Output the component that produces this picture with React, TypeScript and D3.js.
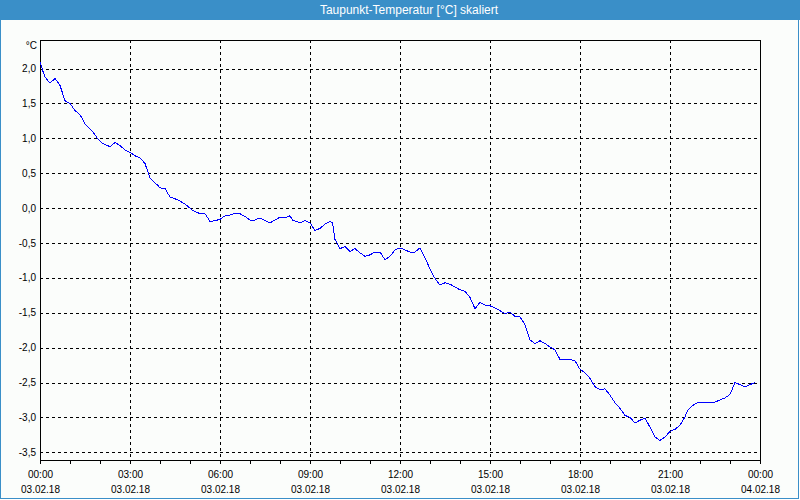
import * as React from 'react';
import * as d3 from 'd3';

const title = 'Taupunkt-Temperatur [°C] skaliert';
const unitLabel = '°C';
const day = '2018-02-03';
const nextDay = '2018-02-04';

// dew point readings, time of day on 03.02.18
const times = [
  '00:00', '00:05', '00:10', '00:20', '00:30', '00:40', '00:50', '01:00', '01:10', '01:20',
  '01:30', '01:45', '01:55', '02:05', '02:20', '02:30', '02:40', '02:50', '03:00', '03:10',
  '03:20', '03:30', '03:40', '03:55', '04:00', '04:10', '04:20', '04:35', '04:50', '05:05',
  '05:20', '05:30', '05:40', '05:50', '06:00', '06:10', '06:20', '06:30', '06:40', '06:50',
  '07:00', '07:10', '07:20', '07:30', '07:40', '07:50', '08:00', '08:10', '08:20', '08:25',
  '08:40', '08:50', '09:00', '09:10', '09:20', '09:30', '09:40', '09:45', '09:50', '10:00',
  '10:10', '10:20', '10:30', '10:40', '10:50', '11:00', '11:10', '11:20', '11:30', '11:40',
  '11:50', '12:00', '12:10', '12:20', '12:30', '12:40', '12:45', '12:55', '13:05', '13:15',
  '13:20', '13:30', '13:40', '13:50', '14:00', '14:10', '14:20', '14:30', '14:40', '14:50',
  '15:00', '15:10', '15:20', '15:30', '15:40', '15:50', '16:00', '16:10', '16:20', '16:30',
  '16:40', '16:50', '17:00', '17:10', '17:20', '17:30', '17:40', '17:50', '18:00', '18:10',
  '18:20', '18:30', '18:40', '18:50', '19:00', '19:10', '19:20', '19:30', '19:40', '19:50',
  '20:00', '20:10', '20:20', '20:30', '20:40', '20:50', '21:00', '21:10', '21:20', '21:30',
  '21:35', '21:45', '21:55', '22:05', '22:20', '22:30', '22:40', '22:50', '23:00', '23:10',
  '23:20', '23:30', '23:40', '23:50',
];

const values = [
  2.10, 1.98, 1.88, 1.79, 1.86, 1.76, 1.54, 1.50, 1.40, 1.34,
  1.21, 1.10, 1.00, 0.93, 0.88, 0.94, 0.90, 0.83, 0.80, 0.75,
  0.72, 0.64, 0.43, 0.33, 0.29, 0.28, 0.16, 0.12, 0.06, -0.03,
  -0.08, -0.08, -0.19, -0.18, -0.16, -0.11, -0.10, -0.07, -0.08, -0.12,
  -0.17, -0.17, -0.14, -0.18, -0.21, -0.17, -0.13, -0.14, -0.11, -0.17,
  -0.21, -0.18, -0.21, -0.32, -0.29, -0.23, -0.19, -0.21, -0.45, -0.58,
  -0.55, -0.62, -0.58, -0.64, -0.69, -0.67, -0.63, -0.63, -0.74, -0.69,
  -0.60, -0.57, -0.60, -0.63, -0.63, -0.57, -0.64, -0.79, -0.95, -1.06,
  -1.10, -1.07, -1.09, -1.13, -1.17, -1.19, -1.28, -1.44, -1.35, -1.39,
  -1.40, -1.43, -1.47, -1.51, -1.49, -1.55, -1.56, -1.67, -1.89, -1.94,
  -1.90, -1.94, -1.99, -2.03, -2.17, -2.17, -2.17, -2.19, -2.31, -2.36,
  -2.44, -2.56, -2.60, -2.59, -2.68, -2.79, -2.87, -2.97, -3.00, -3.08,
  -3.04, -3.01, -3.14, -3.28, -3.33, -3.28, -3.20, -3.17, -3.11, -2.99,
  -2.90, -2.83, -2.79, -2.78, -2.78, -2.78, -2.75, -2.72, -2.67, -2.50,
  -2.53, -2.56, -2.53, -2.50,
];

const yTicks = [-3.5, -3.0, -2.5, -2.0, -1.5, -1.0, -0.5, 0.0, 0.5, 1.0, 1.5, 2.0];
const yDomain = [-3.61, 2.41];

const width = 800;
const height = 500;
const margin = { top: 40, bottom: 40, left: 40, right: 40 };
const font = '"Liberation Sans", Arial, sans-serif';

export default class App extends React.Component {
  public container: React.RefObject<SVGSVGElement>;

  constructor(props: any) {
    super(props);
    this.container = React.createRef();
  }

  public componentDidMount() {
    this.draw();
  }

  public draw() {
    const parse = d3.timeParse('%Y-%m-%d %H:%M');
    const start = parse(`${day} 00:00`) as Date;
    const end = parse(`${nextDay} 00:00`) as Date;
    const data = times.map((t, i) => ({ date: parse(`${day} ${t}`) as Date, value: values[i] }));

    const x = d3.scaleTime().domain([start, end]).range([margin.left, width - margin.right]);
    const y = d3.scaleLinear().domain(yDomain).range([height - margin.bottom, margin.top]);

    const svg = d3.select(this.container.current);
    svg.selectAll('*').remove();

    // panel + title bar
    svg.append('rect')
      .attr('x', 0.5).attr('y', 0.5)
      .attr('width', width - 2).attr('height', height - 2)
      .attr('fill', '#fbfdfb')
      .attr('stroke', '#3a8fc8');
    svg.append('rect')
      .attr('x', 0).attr('y', 0)
      .attr('width', width).attr('height', 20)
      .attr('fill', '#3a8fc8');
    svg.append('text')
      .attr('x', 409).attr('y', 14)
      .attr('text-anchor', 'middle')
      .attr('fill', '#ffffff')
      .attr('font-family', font)
      .attr('font-size', 12)
      .text(title);

    const x0 = margin.left;
    const x1 = width - margin.right;
    const y0 = height - margin.bottom;
    const y1 = margin.top;

    const grid = svg.append('g')
      .attr('stroke', '#000')
      .attr('stroke-width', 1)
      .attr('stroke-dasharray', '3,3')
      .attr('shape-rendering', 'crispEdges');

    grid.selectAll('.hgrid')
      .data(yTicks)
      .enter()
      .append('line')
      .attr('x1', x0).attr('x2', x1)
      .attr('y1', d => Math.round(y(d)) + 0.5)
      .attr('y2', d => Math.round(y(d)) + 0.5);

    const major = x.ticks(d3.timeHour.every(3) as d3.TimeInterval);
    const inner = major.filter(d => +d !== +start && +d !== +end);

    grid.selectAll('.vgrid')
      .data(inner)
      .enter()
      .append('line')
      .attr('y1', y1).attr('y2', y0)
      .attr('x1', d => Math.round(x(d)) + 0.5)
      .attr('x2', d => Math.round(x(d)) + 0.5);

    // frame
    svg.append('rect')
      .attr('x', x0 + 0.5).attr('y', y1 + 0.5)
      .attr('width', x1 - x0).attr('height', y0 - y1)
      .attr('fill', 'none')
      .attr('stroke', '#000')
      .attr('shape-rendering', 'crispEdges');

    // hourly ticks
    svg.append('g')
      .attr('stroke', '#000')
      .attr('shape-rendering', 'crispEdges')
      .selectAll('line')
      .data(x.ticks(d3.timeHour.every(1) as d3.TimeInterval))
      .enter()
      .append('line')
      .attr('x1', d => Math.round(x(d)) + 0.5)
      .attr('x2', d => Math.round(x(d)) + 0.5)
      .attr('y1', y0).attr('y2', y0 + 4);

    const fmtNum = (v: number) => d3.format('.1f')(v).replace('.', ',').replace('\u2212', '-');

    svg.append('g')
      .attr('font-family', font)
      .attr('font-size', 10)
      .attr('fill', '#000')
      .attr('text-anchor', 'end')
      .selectAll('text')
      .data(yTicks)
      .enter()
      .append('text')
      .attr('x', 36)
      .attr('y', d => y(d) + 3.5)
      .text(fmtNum);

    svg.append('text')
      .attr('x', 37).attr('y', 49)
      .attr('text-anchor', 'end')
      .attr('font-family', font)
      .attr('font-size', 10)
      .text(unitLabel);

    const fmtTime = d3.timeFormat('%H:%M');
    const fmtDate = d3.timeFormat('%d.%m.%y');

    const xl = svg.append('g')
      .attr('font-family', font)
      .attr('font-size', 10)
      .attr('fill', '#000')
      .attr('text-anchor', 'middle')
      .selectAll('g')
      .data(major)
      .enter()
      .append('g')
      .attr('transform', d => `translate(${Math.round(x(d)) + 0.5},0)`);
    xl.append('text').attr('y', 478).text(d => fmtTime(d));
    xl.append('text').attr('y', 493).text(d => fmtDate(d));

    const line = d3.line<{ date: Date; value: number }>()
      .x(d => x(d.date))
      .y(d => y(d.value));

    svg.append('path')
      .datum(data)
      .attr('d', line)
      .attr('fill', 'none')
      .attr('stroke', '#0000ff')
      .attr('stroke-width', 1)
      .attr('shape-rendering', 'crispEdges');
  }

  public render() {
    return (
      <svg
        ref={this.container}
        width={width}
        height={height}
        style={{ position: 'absolute', left: 0, top: 0, display: 'block' }}
      />
    );
  }
}
